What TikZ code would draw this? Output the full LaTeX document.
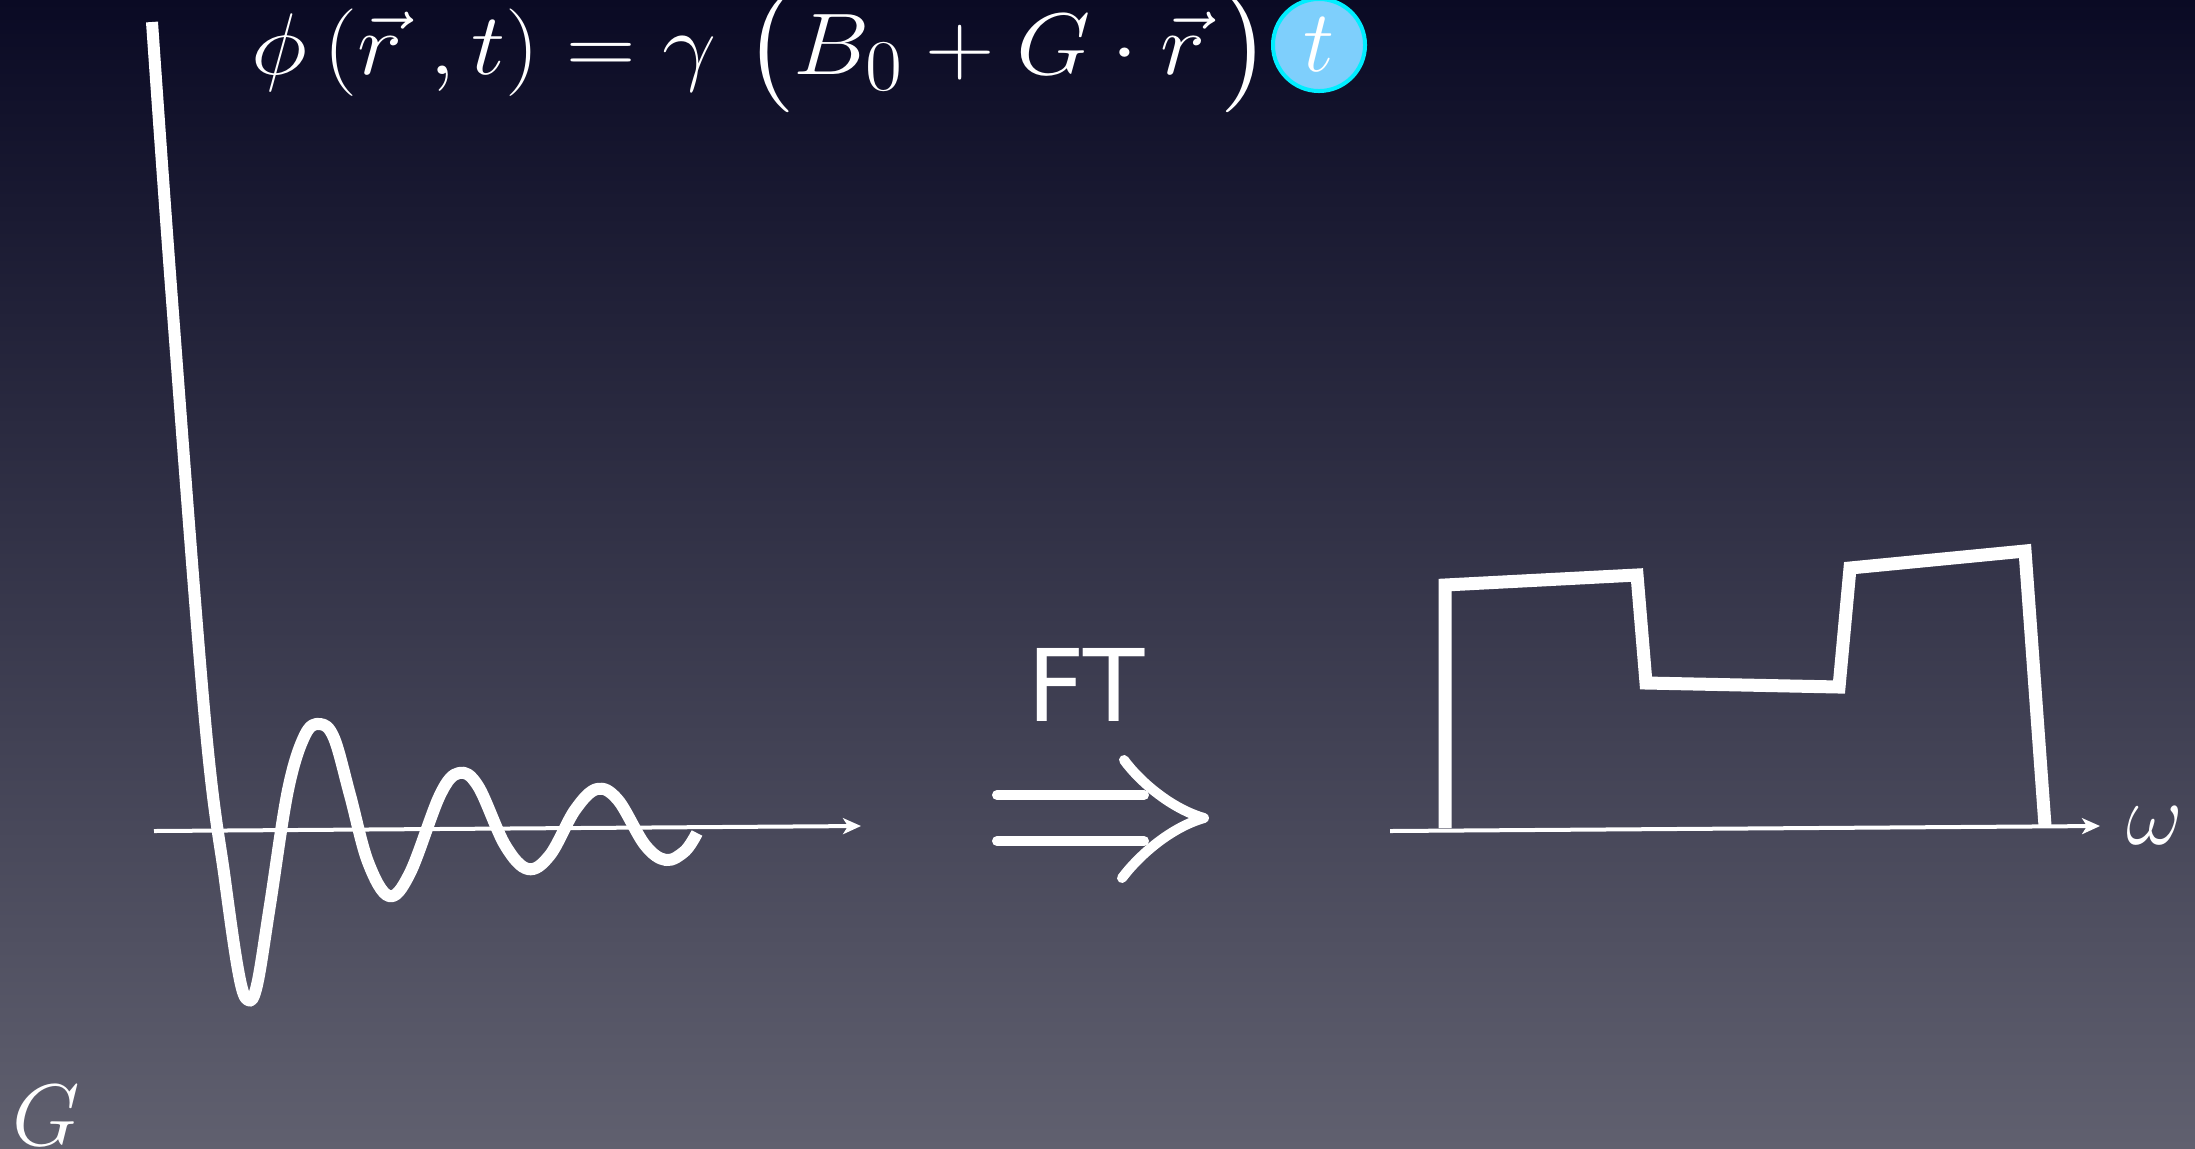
\documentclass[tikz,border=0pt]{standalone}
\usepackage{amsmath}
\usepackage{amssymb}
\usepackage{fontspec}
\newfontfamily\ftfont{DejaVu Sans}
\usetikzlibrary{arrows.meta,positioning}

\definecolor{bgtop}{HTML}{0A0A24}
\definecolor{bgmid}{HTML}{3A3A55}
\definecolor{bgbot}{HTML}{60606F}
\definecolor{tfill}{HTML}{7ECFFC}
\definecolor{tring}{HTML}{00EEFF}

\begin{document}
\begin{tikzpicture}[
    x=0.01cm, y=-0.01cm,
    >={Stealth[length=0.18cm, width=0.16cm, inset=0.05cm]},
    sig/.style={draw=white, line width=0.12cm, line join=round},
    axis/.style={draw=white, line width=0.04cm, ->},
    dbl/.style={draw=white, line width=0.1cm, line cap=round, line join=round},
    formula/.style={text=white, inner sep=0pt, font=\fontsize{28.5}{34}\selectfont},
    lbl/.style={text=white, inner sep=0pt, font=\fontsize{31}{37}\selectfont},
    tmark/.style={circle, draw=tring, fill=tfill, line width=0.04cm, minimum size=0.92cm, inner sep=0pt, text=white, font=\fontsize{28}{34}\selectfont}
]

    % Bakgrunn
    \useasboundingbox (0,0) rectangle (2195,1148);
    \shade[top color=bgtop, middle color=bgmid, bottom color=bgbot] (0,0) rectangle (2195,1148);

    % Formelen overst
    \node [formula, anchor=base west] (phase) at (251,74)
        {\scalebox{1.1}[1]{$\phi\left(\vec{r}\;,t\right)=\gamma\;\bigl(B_0+G\cdot\vec{r}\,\bigr)$}};
    \node [tmark] (tmark) at (1319,45) {$t$};

    % Aksene
    \coordinate (laxisA) at (154,831);
    \coordinate (laxisB) at (861,826);
    \coordinate (raxisA) at (1390,831);
    \coordinate (raxisB) at (2100,826);
    \draw [axis] (laxisA) -- (laxisB);
    \draw [axis] (raxisA) -- (raxisB);
    \node [lbl, right=0.26cm of raxisB] (omega) {$\omega$};
    \node [lbl, anchor=base west, font=\fontsize{33}{40}\selectfont] (gvar) at (12,1145) {$G$};

    % Signalet i tid (venstre)
    \draw [sig] plot[smooth, tension=0.6] coordinates {
        (152,22) (172,300) (205,720) (225,880) (239,975) (248,1000) (257,985)
        (270,905) (288,790) (305,735) (320,724) (334,738) (350,795) (368,862)
        (389,896) (410,873) (440,795) (459,773) (478,786) (505,845) (528,869)
        (550,855) (575,810) (597,789) (618,800) (645,845) (666,860) (685,851) (697,833)};

    % Spekteret (hoyre)
    \draw [sig, line width=0.13cm, line join=miter] (1445,828) -- (1445,585) -- (1637,575) -- (1646,683)
        -- (1839,687) -- (1850,568) -- (2025,551) -- (2045,826);

    % FT-pilen
    \coordinate (ftA) at (997,795);
    \coordinate (ftB) at (1144,795);
    \coordinate (ftC) at (997,841);
    \coordinate (ftD) at (1144,841);
    \coordinate (fttip) at (1204,818);
    \draw [dbl] (ftA) -- (ftB);
    \draw [dbl] (ftC) -- (ftD);
    \draw [dbl] (1124,760) .. controls (1140,782) and (1172,809) .. (fttip)
        .. controls (1172,827) and (1140,854) .. (1122,878);
    \node [text=white, inner sep=0pt, anchor=base, font=\ftfont\fontsize{28.5}{34}\selectfont] (ftlabel) at (1086,721) {FT};

\end{tikzpicture}
\end{document}
